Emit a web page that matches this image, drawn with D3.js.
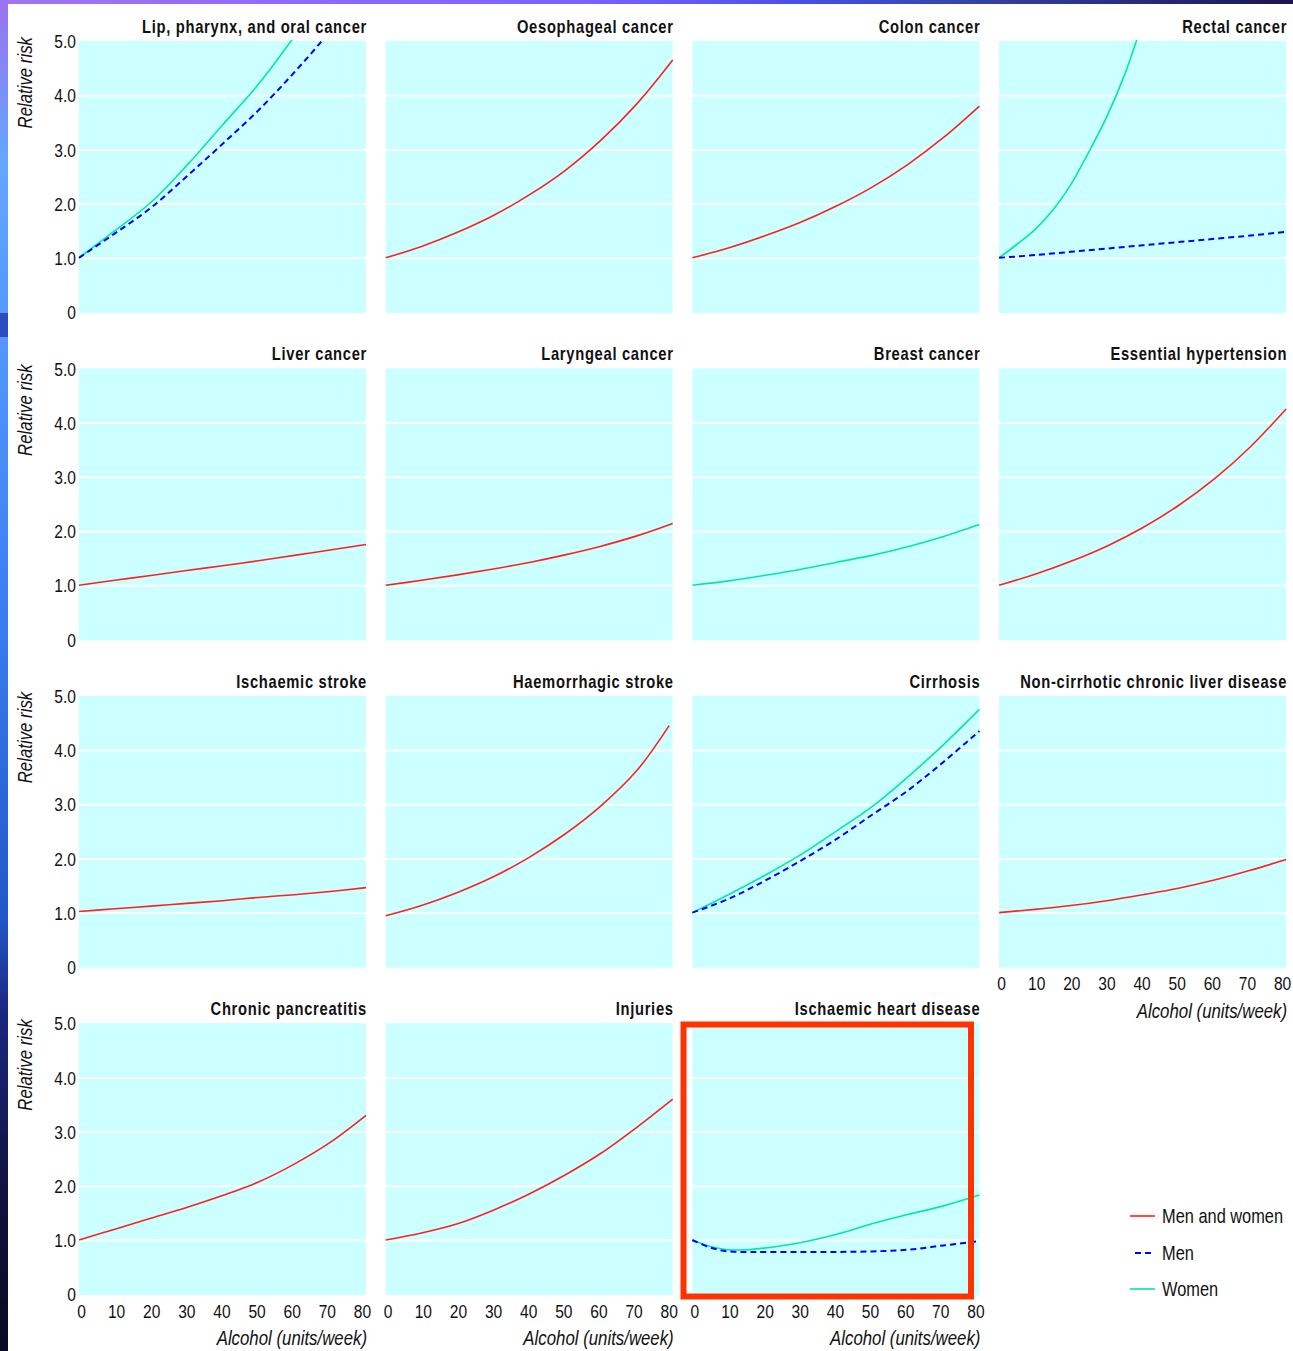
<!DOCTYPE html>
<html>
<head>
<meta charset="utf-8">
<script src="https://cdn.jsdelivr.net/npm/d3@7"></script>
<style>
  body { margin: 0; background: #fff; }
  svg { display: block; }
  text { font-family: "Liberation Sans", Arial, sans-serif; fill: #111; }
  .title { font-weight: bold; font-size: 18px; letter-spacing: 0.85px; }
  .tick text { font-size: 19px; }
  .axis-title { font-style: italic; font-size: 20.5px; }
  .legend text { font-size: 20px; }
</style>
</head>
<body>
<div id="chart"></div>
<script>
// x positions (alcohol, units/week)
var xTen = [0, 10, 20, 30, 40, 50, 60, 70, 80];
var xFive = [0, 5, 10, 15, 20, 25, 30, 35, 40, 45];
var xIhd = [0, 5, 10, 15, 20, 30, 40, 50, 60, 70, 80];
var xHaem = [0, 10, 20, 30, 40, 50, 60, 70, 79];

var xTicks = [0, 10, 20, 30, 40, 50, 60, 70, 80];
var yTicks = [0, 1, 2, 3, 4, 5];

var titles = [
  "Lip, pharynx, and oral cancer", "Oesophageal cancer", "Colon cancer", "Rectal cancer",
  "Liver cancer", "Laryngeal cancer", "Breast cancer", "Essential hypertension",
  "Ischaemic stroke", "Haemorrhagic stroke", "Cirrhosis", "Non-cirrhotic chronic liver disease",
  "Chronic pancreatitis", "Injuries", "Ischaemic heart disease"
];

// relative risk values
var lipWomen = [1.0, 1.5, 2.02, 2.7, 3.45, 4.2, 5.08, 6.0, 7.0];
var lipMen = [1.0, 1.45, 1.92, 2.5, 3.1, 3.72, 4.42, 5.18, 6.0];
var oesophagealBoth = [1.0, 1.21, 1.47, 1.78, 2.16, 2.61, 3.17, 3.84, 4.65];
var colonBoth = [1.0, 1.18, 1.4, 1.65, 1.95, 2.3, 2.72, 3.22, 3.8];
var rectalWomen = [1.0, 1.25, 1.52, 1.88, 2.35, 2.95, 3.6, 4.38, 5.35, 6.4];
var rectalMen = [1.0, 1.05, 1.11, 1.17, 1.23, 1.29, 1.35, 1.41, 1.48];
var liverBoth = [1.0, 1.09, 1.18, 1.27, 1.36, 1.45, 1.55, 1.65, 1.75];
var laryngealBoth = [1.0, 1.09, 1.19, 1.3, 1.42, 1.56, 1.72, 1.91, 2.14];
var breastWomen = [1.0, 1.08, 1.18, 1.29, 1.42, 1.55, 1.71, 1.9, 2.12];
var hypertensionBoth = [1.0, 1.2, 1.44, 1.72, 2.06, 2.47, 2.96, 3.55, 4.25];
var ischStrokeBoth = [1.02, 1.07, 1.12, 1.17, 1.22, 1.28, 1.33, 1.39, 1.46];
var haemStrokeBoth = [0.94, 1.13, 1.37, 1.66, 2.02, 2.45, 2.97, 3.62, 4.45];
var cirrhosisWomen = [1.0, 1.33, 1.68, 2.06, 2.5, 2.95, 3.5, 4.1, 4.75];
var cirrhosisMen = [1.0, 1.25, 1.58, 1.95, 2.35, 2.8, 3.25, 3.78, 4.35];
var nonCirrhoticBoth = [1.0, 1.06, 1.13, 1.22, 1.33, 1.45, 1.6, 1.78, 1.98];
var pancreatitisBoth = [1.0, 1.2, 1.4, 1.6, 1.82, 2.07, 2.4, 2.8, 3.3];
var injuriesBoth = [1.0, 1.13, 1.3, 1.55, 1.85, 2.2, 2.6, 3.08, 3.6];
var ihdWomen = [1.0, 0.88, 0.82, 0.82, 0.85, 0.95, 1.1, 1.3, 1.47, 1.63, 1.83];
var ihdMen = [1.0, 0.86, 0.79, 0.78, 0.78, 0.78, 0.78, 0.79, 0.82, 0.9, 0.98];

var groups = ["Men and women", "Men", "Women"];
var groupColor = {"Men and women": "#ff2020", "Men": "#0000ff", "Women": "#00e8a8"};
var groupDash = {"Men and women": null, "Men": "6,4", "Women": null};

function s(group, xs, ys) {
  return {group: group, points: xs.map(function (x, i) { return [x, ys[i]]; })};
}

var panels = [
  [s("Women", xTen, lipWomen), s("Men", xTen, lipMen)],
  [s("Men and women", xTen, oesophagealBoth)],
  [s("Men and women", xTen, colonBoth)],
  [s("Women", xFive, rectalWomen), s("Men", xTen, rectalMen)],
  [s("Men and women", xTen, liverBoth)],
  [s("Men and women", xTen, laryngealBoth)],
  [s("Women", xTen, breastWomen)],
  [s("Men and women", xTen, hypertensionBoth)],
  [s("Men and women", xTen, ischStrokeBoth)],
  [s("Men and women", xHaem, haemStrokeBoth)],
  [s("Women", xTen, cirrhosisWomen), s("Men", xTen, cirrhosisMen)],
  [s("Men and women", xTen, nonCirrhoticBoth)],
  [s("Men and women", xTen, pancreatitisBoth)],
  [s("Men and women", xTen, injuriesBoth)],
  [s("Women", xIhd, ihdWomen), s("Men", xIhd, ihdMen)]
];

var width = 1293, height = 1351;
var pw = 287, ph = 271;
var colX = function (c) { return 79 + c * 306.7; };
var rowY = function (r) { return 41 + r * 327.4; };

// squeeze text horizontally so it reads like the narrow face of the original
function narrow(sel) {
  sel.each(function () {
    var t = d3.select(this);
    var tx = +t.attr("x") || 0, ty = +t.attr("y") || 0;
    var tr = t.attr("transform") || "";
    t.attr("x", 0).attr("y", 0)
      .attr("transform", tr + " translate(" + tx + "," + ty + ") scale(0.82,1)");
  });
}

var svg = d3.select("#chart").append("svg")
  .attr("width", width)
  .attr("height", height);

// slide decoration: gradient bars on top and left
var defs = svg.append("defs");
var topGrad = defs.append("linearGradient").attr("id", "topGrad");
[["0%", "#a274f2"], ["45%", "#7a62ff"], ["62%", "#4a4fe6"], ["75%", "#3544a8"], ["100%", "#1c1452"]]
  .forEach(function (d) { topGrad.append("stop").attr("offset", d[0]).attr("stop-color", d[1]); });
var leftGrad = defs.append("linearGradient").attr("id", "leftGrad")
  .attr("x1", 0).attr("y1", 0).attr("x2", 0).attr("y2", 1);
[["0%", "#9a72f0"], ["12%", "#64a6ff"], ["45%", "#3c7ef2"], ["68%", "#2157c8"], ["75%", "#1b2680"], ["88%", "#11123e"], ["100%", "#0a0a22"]]
  .forEach(function (d) { leftGrad.append("stop").attr("offset", d[0]).attr("stop-color", d[1]); });

svg.append("rect").attr("width", width).attr("height", 4).attr("fill", "url(#topGrad)");
svg.append("rect").attr("width", 8).attr("height", height).attr("fill", "url(#leftGrad)");
svg.append("rect").attr("x", 0).attr("y", 313).attr("width", 8).attr("height", 24).attr("fill", "#2c4cc0");

var x = d3.scaleLinear().domain([0, 80]).range([0, pw]);
var y = d3.scaleLinear().domain([0, 5]).range([ph, 0]);
// tick labels sit slightly inside the panel edges
var xLabel = d3.scaleLinear().domain([0, 80]).range([2, pw - 4]);

var line = d3.line()
  .x(function (d) { return x(d[0]); })
  .y(function (d) { return y(d[1]); })
  .curve(d3.curveCatmullRom.alpha(0.5));

panels.forEach(function (series, i) {
  var col = i % 4, row = Math.floor(i / 4);
  var g = svg.append("g").attr("transform", "translate(" + colX(col) + "," + rowY(row) + ")");

  g.append("rect").attr("width", pw).attr("height", ph + 1).attr("fill", "#ccffff");

  // white gridlines
  g.append("g")
    .call(d3.axisLeft(y).tickValues([1, 2, 3, 4]).tickSize(-pw).tickFormat(""))
    .call(function (a) {
      a.select(".domain").remove();
      a.selectAll("line").attr("stroke", "#fff").attr("stroke-width", 2);
    });

  defs.append("clipPath").attr("id", "clip" + i)
    .append("rect").attr("x", -2).attr("y", -1).attr("width", pw + 4).attr("height", ph + 2);

  g.append("g").attr("clip-path", "url(#clip" + i + ")")
    .selectAll("path")
    .data(series)
    .join("path")
    .attr("d", function (d) { return line(d.points); })
    .attr("fill", "none")
    .attr("stroke", function (d) { return groupColor[d.group]; })
    .attr("stroke-width", function (d) { return d.group === "Men" ? 2 : 1.6; })
    .attr("stroke-dasharray", function (d) { return groupDash[d.group]; });

  g.append("text").attr("class", "title")
    .attr("x", pw + 1).attr("y", -8)
    .attr("text-anchor", "end")
    .text(titles[i])
    .call(narrow);

  if (col === 0) {
    g.append("g")
      .call(d3.axisLeft(y).tickValues(yTicks).tickSize(0).tickPadding(3)
        .tickFormat(function (d) { return d === 0 ? "0" : d.toFixed(1); }))
      .call(function (a) {
        a.select(".domain").remove();
        a.selectAll("text").attr("dy", "0.35em").call(narrow);
      });

    g.append("text").attr("class", "axis-title")
      .attr("transform", "translate(-47,-4) rotate(-90)")
      .attr("text-anchor", "end")
      .text("Relative risk")
      .call(narrow);
  }

  if (row === 3 || (row === 2 && col === 3)) {
    g.append("g").attr("transform", "translate(0," + ph + ")")
      .call(d3.axisBottom(xLabel).tickValues(xTicks).tickSize(0).tickPadding(10))
      .call(function (a) {
        a.select(".domain").remove();
        a.selectAll("text").call(narrow);
      });

    g.append("text").attr("class", "axis-title")
      .attr("x", pw + 1).attr("y", ph + 51)
      .attr("text-anchor", "end")
      .text("Alcohol (units/week)")
      .call(narrow);
  }
});

// highlight box around ischaemic heart disease
svg.append("rect")
  .attr("x", 683.5).attr("y", 1024.5)
  .attr("width", 287.5).attr("height", 272)
  .attr("fill", "none")
  .attr("stroke", "#ff3300")
  .attr("stroke-width", 6);

// legend
var legend = svg.append("g").attr("class", "legend").attr("transform", "translate(1130,1216)");
var item = legend.selectAll("g").data(groups).join("g")
  .attr("transform", function (d, i) { return "translate(0," + [0, 37, 73][i] + ")"; });
item.append("line")
  .attr("x1", function (d) { return d === "Men" ? 5 : 0; }).attr("x2", 25)
  .attr("stroke", function (d) { return groupColor[d]; })
  .attr("stroke-width", function (d) { return d === "Men" ? 2 : 1.6; })
  .attr("stroke-dasharray", function (d) { return groupDash[d]; });
item.append("text").attr("x", 32).attr("dy", "0.35em").text(function (d) { return d; })
  .call(narrow);
</script>
</body>
</html>
